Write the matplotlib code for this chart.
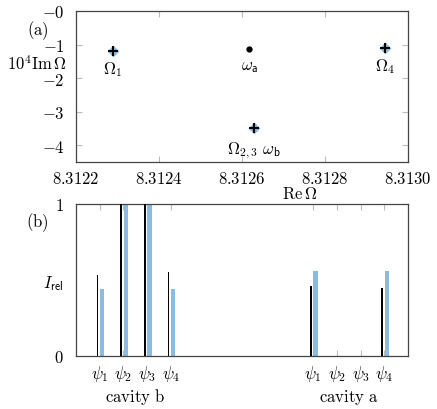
import matplotlib
matplotlib.use("Agg")
import numpy as np
import matplotlib.pyplot as plt

plt.rcParams["mathtext.fontset"] = "cm"
plt.rcParams["font.family"] = "serif"
plt.rcParams["font.serif"] = ["DejaVu Serif"]

BLUE = "#8cbbe0"
FS = 12

# (a) complex eigenfrequencies
re_omega = [8.312289, 8.312629, 8.312945]
im_omega = [-1.18, -3.49, -1.10]
omega_labels = [r"$\Omega_1$", r"$\Omega_{2,3}\ \omega_\mathsf{b}$", r"$\Omega_4$"]
label_gap = [6, 8, 6]
re_wa = 8.312617
im_wa = -1.13

xticks_a = [8.3122, 8.3124, 8.3126, 8.3128, 8.3130]
yticks_a = [0, -1, -2, -3, -4]

# (b) relative intensities
psi_labels = [r"$\psi_1$", r"$\psi_2$", r"$\psi_3$", r"$\psi_4$"]
pos_b = [1, 2, 3, 4]
pos_a = [10, 11, 12, 13]
black_b = [0.53, 1.0, 1.0, 0.55]
blue_b = [0.44, 1.0, 1.0, 0.44]
black_a = [0.46, 0.0, 0.0, 0.445]
blue_a = [0.56, 0.0, 0.0, 0.56]

fig = plt.figure(figsize=(4.37, 4.10), dpi=100)
W, H = 437, 410
ax1 = fig.add_axes([76 / W, 1 - 163 / H, 332 / W, 151 / H])
ax2 = fig.add_axes([76 / W, 1 - 357 / H, 332 / W, 152 / H])

for ax in (ax1, ax2):
    for s in ax.spines.values():
        s.set_color("#444444")
        s.set_linewidth(0.9)
    ax.tick_params(direction="in", top=True, right=True, color="#bbbbbb",
                   length=4, labelsize=FS, pad=6)

# panel (a)
ax1.plot(re_omega, im_omega, linestyle="none", marker="D", ms=6.5,
         color=BLUE, mec="none", zorder=3)
ax1.plot(re_omega, im_omega, linestyle="none", marker="+", ms=7.5,
         mew=1.5, color="black", zorder=4)
ax1.plot([re_wa], [im_wa], linestyle="none", marker="o", ms=3.5,
         color="black", zorder=4)
for x, y, lab, g in zip(re_omega, im_omega, omega_labels, label_gap):
    ax1.annotate(lab, (x, y), xytext=(0, -g), textcoords="offset points",
                 ha="center", va="top", fontsize=FS)
ax1.annotate(r"$\omega_\mathsf{a}$", (re_wa, im_wa), xytext=(0, -6),
             textcoords="offset points", ha="center", va="top", fontsize=FS)

ax1.set_xlim(8.3122, 8.3130)
ax1.set_ylim(-4.5, 0)
ax1.set_xticks(xticks_a)
ax1.set_xticklabels([f"${v:.4f}$" for v in xticks_a])
ax1.set_yticks(yticks_a)
ax1.set_yticklabels(["$-0$"] + [f"${v}$" for v in yticks_a[1:]])
ax1.tick_params(axis="y", pad=8)
ax1.text(0.675, -0.15, r"$\mathrm{Re}\,\Omega$", transform=ax1.transAxes,
         ha="center", va="top", fontsize=FS)
ax1.text(-0.027, -1.56, r"$10^4\mathrm{Im}\,\Omega$", transform=ax1.get_yaxis_transform(),
         ha="right", va="center", fontsize=FS)
fig.text(37.5 / W, 1 - 31 / H, r"$(\mathrm{a})$", ha="center", va="center", fontsize=FS)

# panel (b)
off = 0.1
ax2.bar(np.array(pos_b) - off, black_b, width=0.07, color="black", zorder=3)
ax2.bar(np.array(pos_b) + off, blue_b, width=0.17, color=BLUE, zorder=2)
ax2.bar(np.array(pos_a) - off, black_a, width=0.07, color="black", zorder=3)
ax2.bar(np.array(pos_a) + off, blue_a, width=0.17, color=BLUE, zorder=2)

ax2.set_xlim(0, 14)
ax2.set_ylim(0, 1)
ax2.set_xticks(pos_b + pos_a)
ax2.set_xticklabels(psi_labels + psi_labels)
ax2.set_yticks([0, 0.5, 1])
ax2.set_yticklabels(["$0$", r"$I_\mathsf{rel}$", "$1$"])
ax2.tick_params(axis="y", length=0, pad=9)
ax2.tick_params(axis="x", pad=5)
ax2.text(np.mean(pos_b), -0.265, r"$\mathrm{cavity\ b}$", transform=ax2.get_xaxis_transform(),
         ha="center", va="center", fontsize=FS)
ax2.text(np.mean(pos_a), -0.265, r"$\mathrm{cavity\ a}$", transform=ax2.get_xaxis_transform(),
         ha="center", va="center", fontsize=FS)
fig.text(37.5 / W, 1 - 223 / H, r"$(\mathrm{b})$", ha="center", va="center", fontsize=FS)

fig.savefig("out.png", dpi=100)
